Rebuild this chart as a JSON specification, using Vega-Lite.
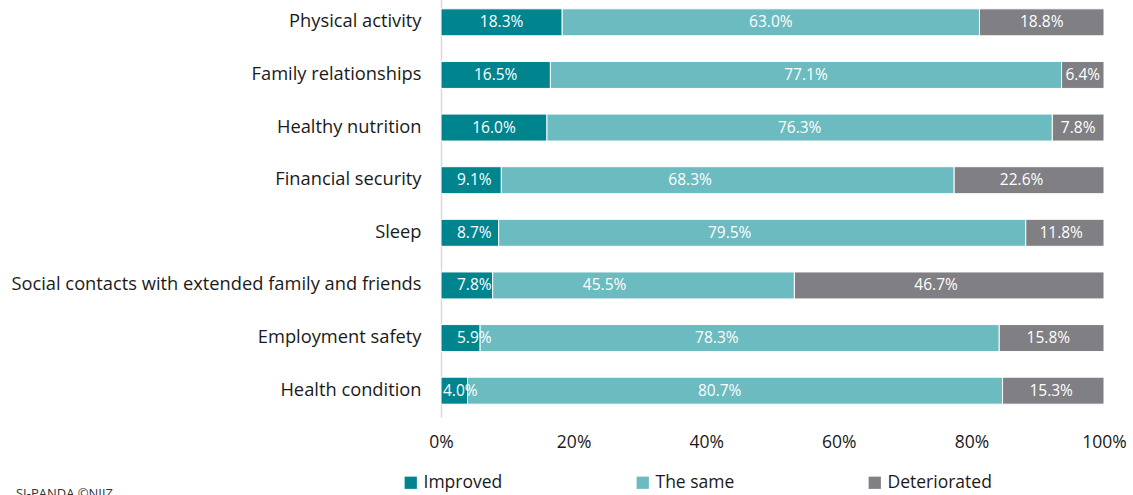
{
  "$schema": "https://vega.github.io/schema/vega-lite/v6.json",
  "width": 663,
  "height": 421,
  "autosize": {"type": "none"},
  "padding": {"left": 441, "top": -4, "right": 29, "bottom": 78},
  "background": "white",
  "config": {
    "font": "Open Sans",
    "view": {"stroke": null}
  },
  "title": {
    "text": "SI-PANDA ©NIJZ",
    "orient": "bottom",
    "anchor": "start",
    "frame": "bounds",
    "align": "left",
    "baseline": "top",
    "dx": 5,
    "dy": -8,
    "fontSize": 13,
    "fontWeight": "normal",
    "color": "#333333",
    "font": "Open Sans"
  },
  "data": {
    "values": [
      {"item": "Physical activity", "status": "Improved", "k": 1, "value": 0.183},
      {"item": "Physical activity", "status": "The same", "k": 2, "value": 0.630},
      {"item": "Physical activity", "status": "Deteriorated", "k": 3, "value": 0.188},
      {"item": "Family relationships", "status": "Improved", "k": 1, "value": 0.165},
      {"item": "Family relationships", "status": "The same", "k": 2, "value": 0.771},
      {"item": "Family relationships", "status": "Deteriorated", "k": 3, "value": 0.064},
      {"item": "Healthy nutrition", "status": "Improved", "k": 1, "value": 0.160},
      {"item": "Healthy nutrition", "status": "The same", "k": 2, "value": 0.763},
      {"item": "Healthy nutrition", "status": "Deteriorated", "k": 3, "value": 0.078},
      {"item": "Financial security", "status": "Improved", "k": 1, "value": 0.091},
      {"item": "Financial security", "status": "The same", "k": 2, "value": 0.683},
      {"item": "Financial security", "status": "Deteriorated", "k": 3, "value": 0.226},
      {"item": "Sleep", "status": "Improved", "k": 1, "value": 0.087},
      {"item": "Sleep", "status": "The same", "k": 2, "value": 0.795},
      {"item": "Sleep", "status": "Deteriorated", "k": 3, "value": 0.118},
      {"item": "Social contacts with extended family and friends", "status": "Improved", "k": 1, "value": 0.078},
      {"item": "Social contacts with extended family and friends", "status": "The same", "k": 2, "value": 0.455},
      {"item": "Social contacts with extended family and friends", "status": "Deteriorated", "k": 3, "value": 0.467},
      {"item": "Employment safety", "status": "Improved", "k": 1, "value": 0.059},
      {"item": "Employment safety", "status": "The same", "k": 2, "value": 0.783},
      {"item": "Employment safety", "status": "Deteriorated", "k": 3, "value": 0.158},
      {"item": "Health condition", "status": "Improved", "k": 1, "value": 0.040},
      {"item": "Health condition", "status": "The same", "k": 2, "value": 0.807},
      {"item": "Health condition", "status": "Deteriorated", "k": 3, "value": 0.153}
    ]
  },
  "encoding": {
    "y": {
      "field": "item",
      "type": "nominal",
      "sort": null,
      "scale": {"paddingInner": 0.487, "paddingOuter": 0.2435},
      "axis": {
        "title": null,
        "ticks": false,
        "domain": true,
        "domainColor": "#d9d9d9",
        "domainWidth": 1.5,
        "labelFontSize": 18.3,
        "labelColor": "#1a1a1a",
        "labelPadding": 20,
        "labelLimit": 500
      }
    },
    "x": {
      "field": "value",
      "type": "quantitative",
      "stack": "normalize",
      "scale": {"domain": [0, 1], "nice": false},
      "axis": {
        "title": null,
        "format": ".0%",
        "values": [0, 0.2, 0.4, 0.6, 0.8, 1],
        "grid": false,
        "domain": false,
        "ticks": false,
        "labelFontSize": 17.5,
        "labelColor": "#1a1a1a",
        "labelPadding": 16,
        "labelFlush": false
      }
    },
    "order": {"field": "k", "type": "quantitative"}
  },
  "layer": [
    {
      "mark": {"type": "bar", "stroke": "white", "strokeWidth": 1},
      "encoding": {
        "color": {
          "field": "status",
          "type": "nominal",
          "scale": {
            "domain": ["Improved", "The same", "Deteriorated"],
            "range": ["#00858f", "#6bbbc0", "#7f7f84"]
          },
          "legend": {
            "title": null,
            "orient": "none",
            "legendX": -39,
            "legendY": 478,
            "padding": 0,
            "direction": "horizontal",
            "symbolType": "square",
            "symbolSize": 150,
            "symbolStrokeWidth": 0,
            "labelFontSize": 17.5,
            "labelColor": "#1a1a1a",
            "labelOffset": 4,
            "columnPadding": 131,
            "gridAlign": "none"
          }
        }
      }
    },
    {
      "transform": [{"filter": "datum.k != 1 || datum.value >= 0.1"}],
      "mark": {"type": "text", "color": "white", "fontSize": 15.5, "align": "center", "baseline": "middle"},
      "encoding": {
        "x": {
          "field": "value",
          "type": "quantitative",
          "stack": "normalize",
          "bandPosition": 0.5
        },
        "text": {"field": "value", "type": "quantitative", "format": ".1%"}
      }
    },
    {
      "transform": [{"filter": "datum.k == 1 && datum.value < 0.1 && datum.value >= 0.05"}],
      "mark": {"type": "text", "color": "white", "fontSize": 15.5, "align": "left", "baseline": "middle", "dx": 16},
      "encoding": {
        "x": {
          "field": "value",
          "type": "quantitative",
          "stack": "normalize",
          "bandPosition": 0
        },
        "text": {"field": "value", "type": "quantitative", "format": ".1%"}
      }
    },
    {
      "transform": [{"filter": "datum.k == 1 && datum.value < 0.05"}],
      "mark": {"type": "text", "color": "white", "fontSize": 15.5, "align": "left", "baseline": "middle", "dx": 2},
      "encoding": {
        "x": {
          "field": "value",
          "type": "quantitative",
          "stack": "normalize",
          "bandPosition": 0
        },
        "text": {"field": "value", "type": "quantitative", "format": ".1%"}
      }
    }
  ]
}
